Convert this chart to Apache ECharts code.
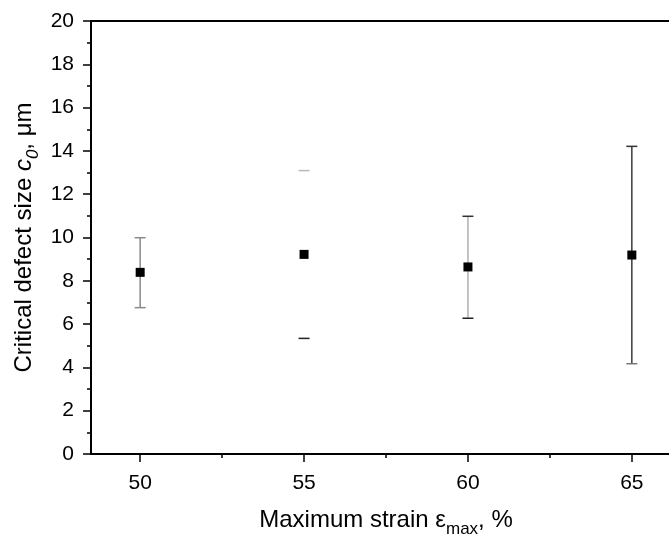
<!DOCTYPE html>
<html>
<head>
<meta charset="utf-8">
<script src="https://cdn.jsdelivr.net/npm/echarts@6/dist/echarts.min.js"></script>
<style>html,body{margin:0;padding:0;background:#fff;}#c{width:669px;height:537px;}</style>
</head>
<body>
<div id="c"></div>
<script>
const xValues = [50, 55, 60, 65];
const meanValues = [8.39, 9.22, 8.64, 9.19];
const upperValues = [9.99, 13.09, 10.98, 14.21];
const lowerValues = [6.76, 5.34, 6.27, 4.17];
const xTickValues = [50, 55, 60, 65];
const xMinorTickValues = [52.5, 57.5, 62.5];

const stemColors = ['#8a8a8a', null, '#b0b0b0', '#3a3a3a'];
const upperCapColors = ['#8a8a8a', '#b8b8b8', '#333333', '#333333'];
const lowerCapColors = ['#8a8a8a', '#222222', '#222222', '#777777'];

const FONT = "'Liberation Sans', Arial, sans-serif";
const chart = echarts.init(document.getElementById('c'), null, {renderer: 'canvas'});

const errData = xValues.map((x, i) => [x, lowerValues[i], upperValues[i], i]);
const meanData = xValues.map((x, i) => [x, meanValues[i]]);

const option = {
  backgroundColor: '#fff',
  animation: false,
  grid: {left: 91, top: 21, width: 590, height: 433, show: true, borderColor: '#000', borderWidth: 2,
         containLabel: false, outerBoundsMode: 'none'},
  xAxis: [{
    type: 'value', min: 48.5, max: 66.5, position: 'bottom',
    axisLine: {show: true, lineStyle: {color: '#000', width: 2}},
    axisTick: {show: true, inside: false, length: 8, lineStyle: {color: '#000', width: 1.5}, customValues: xTickValues},
    axisLabel: {show: true, customValues: xTickValues, color: '#000', fontSize: 21, fontFamily: FONT, margin: 19},
    splitLine: {show: false},
    name: '{a|Maximum strain ε}{s|max}{a|, %}',
    nameLocation: 'middle', nameGap: 50, nameMoveOverlap: false,
    nameTextStyle: {rich: {
      a: {fontSize: 24, fontFamily: FONT, color: '#000', lineHeight: 28, verticalAlign: 'bottom'},
      s: {fontSize: 17, fontFamily: FONT, color: '#000', lineHeight: 28, verticalAlign: 'bottom', padding: [0, 0, -6, 0]}
    }}
  }, {
    type: 'value', min: 48.5, max: 66.5, position: 'bottom',
    axisLine: {show: false},
    axisTick: {show: true, inside: false, length: 4, lineStyle: {color: '#000', width: 1.5}, customValues: xMinorTickValues},
    axisLabel: {show: false},
    splitLine: {show: false}
  }],
  yAxis: {
    type: 'value', min: 0, max: 20, interval: 2,
    axisLine: {show: true, lineStyle: {color: '#000', width: 2}},
    axisTick: {show: true, inside: false, length: 8, lineStyle: {color: '#000', width: 1.5}},
    minorTick: {show: true, splitNumber: 2, length: 4, lineStyle: {color: '#000', width: 1.5}},
    axisLabel: {color: '#000', fontSize: 21, fontFamily: FONT, margin: 17},
    splitLine: {show: false},
    name: '{a|Critical defect size }{i|c}{s|0}{a|, μm}',
    nameLocation: 'middle', nameGap: 55, nameRotate: 90, nameMoveOverlap: false,
    nameTextStyle: {rich: {
      a: {fontSize: 24, fontFamily: FONT, color: '#000', lineHeight: 28, verticalAlign: 'bottom'},
      i: {fontSize: 24, fontFamily: FONT, fontStyle: 'italic', color: '#000', lineHeight: 28, verticalAlign: 'bottom'},
      s: {fontSize: 17, fontFamily: FONT, fontStyle: 'italic', color: '#000', lineHeight: 28, verticalAlign: 'bottom', padding: [0, 0, -6, 0]}
    }}
  },
  series: [{
    type: 'custom',
    xAxisIndex: 0,
    data: errData,
    renderItem: function (params, api) {
      const x = api.value(0), lo = api.value(1), hi = api.value(2), i = api.value(3);
      const pHi = api.coord([x, hi]);
      const pLo = api.coord([x, lo]);
      const hw = 5.5;
      const children = [];
      if (stemColors[i]) {
        children.push({type: 'line', shape: {x1: pHi[0], y1: pHi[1], x2: pLo[0], y2: pLo[1]}, style: {stroke: stemColors[i], lineWidth: 1.5}});
      }
      children.push({type: 'line', shape: {x1: pHi[0] - hw, y1: pHi[1], x2: pHi[0] + hw, y2: pHi[1]}, style: {stroke: upperCapColors[i], lineWidth: 1.5}});
      children.push({type: 'line', shape: {x1: pLo[0] - hw, y1: pLo[1], x2: pLo[0] + hw, y2: pLo[1]}, style: {stroke: lowerCapColors[i], lineWidth: 1.5}});
      return {type: 'group', children: children};
    },
    z: 2
  }, {
    type: 'scatter',
    xAxisIndex: 0,
    data: meanData,
    symbol: 'rect', symbolSize: 9,
    itemStyle: {color: '#000', opacity: 1},
    z: 3
  }]
};
chart.setOption(option);
</script>
</body>
</html>
